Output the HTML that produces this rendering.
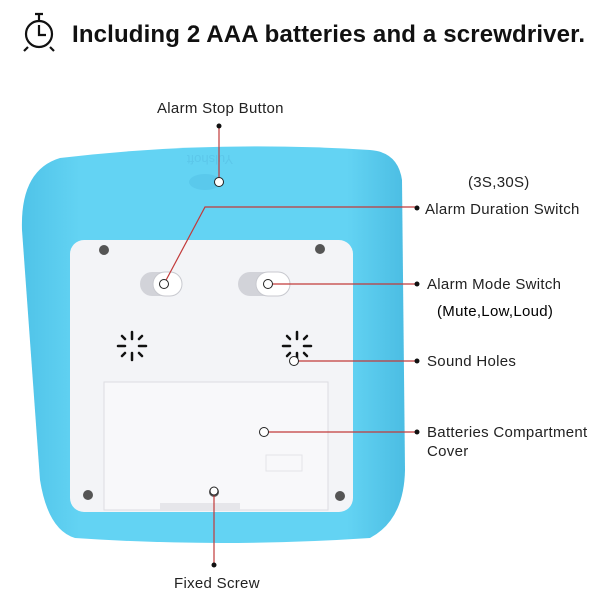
<!DOCTYPE html>
<html><head><style>
body{margin:0;width:600px;height:600px;background:#fff;overflow:hidden;font-family:"Liberation Sans",sans-serif}
</style></head><body>
<svg width="600" height="600" viewBox="0 0 600 600" xmlns="http://www.w3.org/2000/svg">
<defs>
<linearGradient id="bl" x1="0" y1="0" x2="1" y2="0">
<stop offset="0" stop-color="#4fc3e8"/><stop offset="0.15" stop-color="#63d3f3"/><stop offset="0.85" stop-color="#63d3f3"/><stop offset="1" stop-color="#4bbde3"/>
</linearGradient>
</defs>
<g fill="none" stroke="#111" stroke-width="2.2">
<circle cx="39" cy="34" r="13"/>
<path d="M39 25 V35 H46"/>
<path d="M35 14 H43 M39 14 V21"/>
<path d="M28 47 L24 51 M50 47 L54 51"/>
</g>
<text x="72" y="42" font-size="24" font-weight="bold" fill="#111" textLength="513" lengthAdjust="spacing">Including 2 AAA batteries and a screwdriver.</text>
<path d="M60 158 Q210 140 370 150 Q398 152 402 180 L405 470 Q404 520 370 538 Q220 548 75 538 Q48 530 40 480 L22 230 Q20 170 60 158 Z" fill="url(#bl)"/>
<text x="210" y="165" font-size="13" fill="#5cc7ea" text-anchor="middle" transform="rotate(180 210 160)">Yulshoft</text>
<ellipse cx="205" cy="182" rx="16" ry="8" fill="#5ac9ec"/>
<rect x="70" y="240" width="283" height="272" rx="14" fill="#f3f4f7"/>
<rect x="104" y="382" width="224" height="128" fill="#f8f8fa" stroke="#dcdde2"/>
<rect x="266" y="455" width="36" height="16" fill="none" stroke="#e4e4e8"/>
<rect x="160" y="503" width="80" height="8" fill="#e6e6ea"/>
<g fill="#555"><circle cx="104" cy="250" r="5"/><circle cx="320" cy="249" r="5"/><circle cx="88" cy="495" r="5"/><circle cx="340" cy="496" r="5"/><circle cx="214" cy="492" r="5"/></g>
<rect x="140" y="272" width="42" height="24" rx="12" fill="#d2d3d9"/>
<rect x="153" y="272" width="29" height="24" rx="12" fill="#fff" stroke="#c8c9cf"/>
<rect x="238" y="272" width="52" height="24" rx="12" fill="#d2d3d9"/>
<rect x="256" y="272" width="34" height="24" rx="12" fill="#fff" stroke="#c8c9cf"/>
<g stroke="#111" stroke-width="2.5" stroke-linecap="round">
<g transform="translate(132,346)"><path d="M0 -14 V-7 M0 7 V14 M-14 0 H-7 M7 0 H14 M-10 -10 L-7 -7 M10 -10 L7 -7 M-10 10 L-7 7 M10 10 L7 7"/></g>
<g transform="translate(297,346)"><path d="M0 -14 V-7 M0 7 V14 M-14 0 H-7 M7 0 H14 M-10 -10 L-7 -7 M10 -10 L7 -7 M-10 10 L-7 7 M10 10 L7 7"/></g>
</g>
<g stroke="#c23a3a" stroke-width="1.2" fill="none">
<path d="M219 126 V182"/>
<path d="M164 284 L205 207 H415"/>
<path d="M268 284 H415"/>
<path d="M294 361 H415"/>
<path d="M264 432 H415"/>
<path d="M214 491 V565"/>
</g>
<g fill="#fff" stroke="#222" stroke-width="1">
<circle cx="219" cy="182" r="4.5"/><circle cx="164" cy="284" r="4.5"/><circle cx="268" cy="284" r="4.5"/><circle cx="294" cy="361" r="4.5"/><circle cx="264" cy="432" r="4.5"/><circle cx="214" cy="491" r="4"/>
</g>
<g fill="#111"><circle cx="219" cy="126" r="2.5"/><circle cx="417" cy="208" r="2.5"/><circle cx="417" cy="284" r="2.5"/><circle cx="417" cy="361" r="2.5"/><circle cx="417" cy="432" r="2.5"/><circle cx="214" cy="565" r="2.5"/></g>
<g font-size="15" fill="#222" letter-spacing="0.3">
<text x="157" y="113">Alarm Stop Button</text>
<text x="468" y="187">(3S,30S)</text>
<text x="425" y="214">Alarm Duration Switch</text>
<text x="427" y="289">Alarm Mode Switch</text>
<text x="437" y="316" fill="#000">(Mute,Low,Loud)</text>
<text x="427" y="366">Sound Holes</text>
<text x="427" y="437">Batteries Compartment</text>
<text x="427" y="456">Cover</text>
<text x="174" y="588">Fixed Screw</text>
</g>
</svg>
</body></html>
